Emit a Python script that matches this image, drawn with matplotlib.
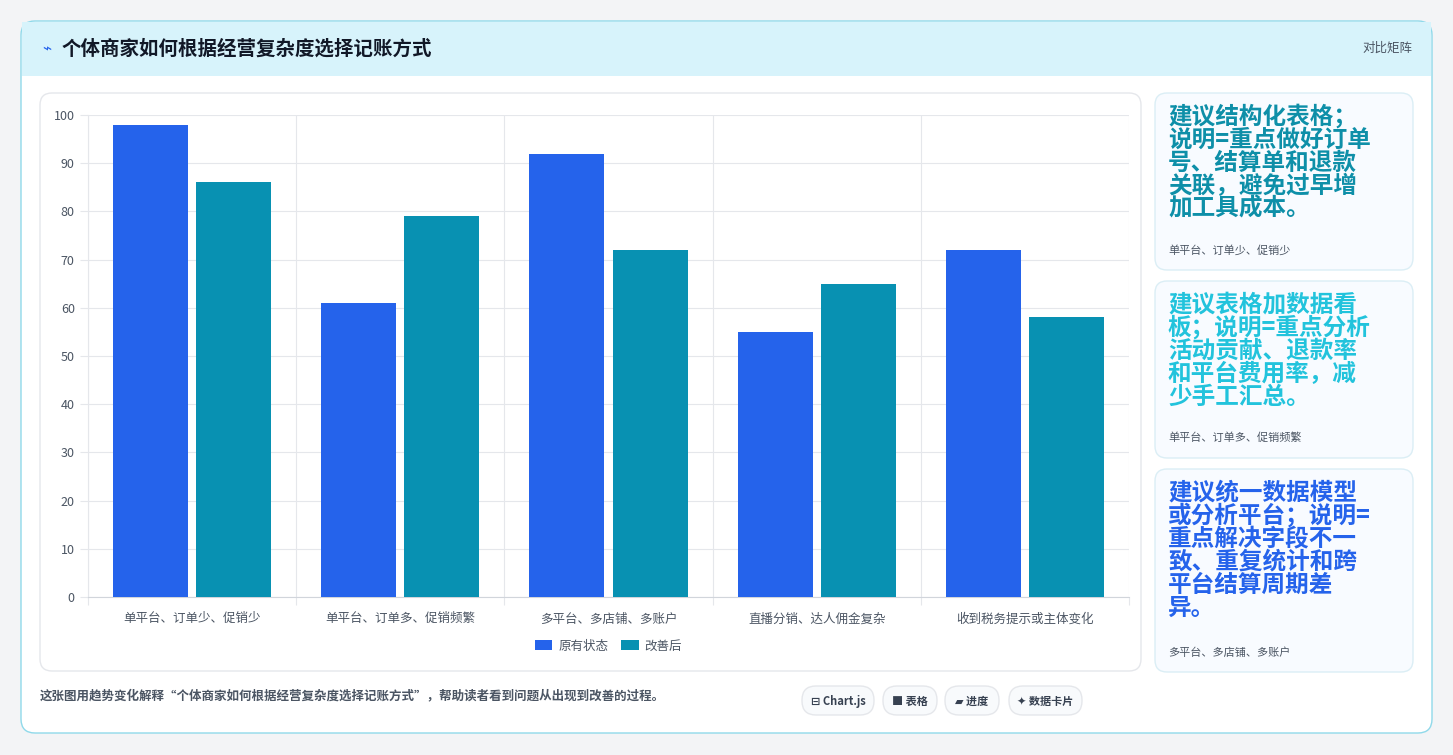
import matplotlib
matplotlib.use("Agg")
import matplotlib.pyplot as plt
from matplotlib.patches import FancyBboxPatch, Rectangle
import numpy as np

plt.rcParams['font.family'] = ['Noto Sans CJK SC', 'DejaVu Sans']

categories = ["单平台、订单少、促销少", "单平台、订单多、促销频繁", "多平台、多店铺、多账户", "直播分销、达人佣金复杂", "收到税务提示或主体变化"]
original = [98, 61, 92, 55, 72]
improved = [86, 79, 72, 65, 58]
series_names = ["原有状态", "改善后"]
colors = ["#2563eb", "#0891b2"]
title = "个体商家如何根据经营复杂度选择记账方式"
cards = [
    ("建议结构化表格；\n说明=重点做好订单\n号、结算单和退款\n关联，避免过早增\n加工具成本。", "单平台、订单少、促销少", "#0e8fa8"),
    ("建议表格加数据看\n板；说明=重点分析\n活动贡献、退款率\n和平台费用率，减\n少手工汇总。", "单平台、订单多、促销频繁", "#22c3dc"),
    ("建议统一数据模型\n或分析平台；说明=\n重点解决字段不一\n致、重复统计和跨\n平台结算周期差\n异。", "多平台、多店铺、多账户", "#2563eb"),
]
chips = ["⊟ Chart.js", "■ 表格", "▰ 进度", "✦ 数据卡片"]

W, H = 1453, 755
fig = plt.figure(figsize=(W/100, H/100), dpi=100)
fig.patch.set_facecolor("#f3f4f6")

def box(x, y, w, h, fc, ec, r=12, lw=1, z=0):
    p = FancyBboxPatch((x/W, 1-(y+h)/H), w/W, h/H,
                       boxstyle=f"round,pad=0,rounding_size={r/W}",
                       transform=fig.transFigure, fc=fc, ec=ec, lw=lw, zorder=z,
                       mutation_aspect=W/H)
    fig.add_artist(p)

box(21, 21, 1411, 712, "white", "#8fd9ea", r=14, lw=1)
fig.add_artist(Rectangle((22/W, 1-76/H), 1409/W, 54/H, transform=fig.transFigure,
                         fc="#d7f3fb", ec="none", zorder=0.5))
fig.text(42/W, 1-49/H, "⌁", color="#2563eb", fontsize=11, va="center")
fig.text(62/W, 1-49/H, title, fontsize=14, fontweight="bold", color="#111827", va="center")
fig.text(1412/W, 1-48/H, "对比矩阵", fontsize=9, color="#4b5563", va="center", ha="right")

box(40, 93, 1101, 578, "white", "#e5e7eb", r=12)

ax = fig.add_axes([88/W, 1-597/H, 1041/W, 482/H])
x = np.arange(len(categories))
bw = 0.36
ax.bar(x-0.2, original, bw, color=colors[0], label=series_names[0], zorder=3)
ax.bar(x+0.2, improved, bw, color=colors[1], label=series_names[1], zorder=3)
ax.set_xlim(-0.5, len(categories)-0.5)
ax.set_ylim(0, 100)
ax.set_yticks(range(0, 101, 10))
ax.set_xticks(np.arange(-0.5, len(categories), 1), minor=False)
ax.set_xticklabels([])
ax.tick_params(axis="x", length=6, color="#e5e7eb")
for i, c in enumerate(categories):
    ax.text(i, -3.2, c, ha="center", va="top", fontsize=9, color="#4b5563")
ax.tick_params(axis="y", length=6, color="#e5e7eb", labelsize=9, labelcolor="#4b5563")
ax.grid(True, color="#e5e7eb", lw=0.8, zorder=0)
for s in ax.spines.values():
    s.set_visible(False)
ax.spines["bottom"].set_visible(True); ax.spines["bottom"].set_color("#d1d5db")
ax.spines["left"].set_visible(True); ax.spines["left"].set_color("#e5e7eb")
ax.set_facecolor("none")
leg = ax.legend(loc="upper center", bbox_to_anchor=(0.5, -0.065), ncol=2, frameon=False,
                fontsize=9, handlelength=1.4, handleheight=0.9, columnspacing=1.0, handletextpad=0.5)
for t in leg.get_texts():
    t.set_color("#4b5563")

ys = [(93, 177), (281, 177), (469, 203)]
for (y, h), (txt, sub, col) in zip(ys, cards):
    box(1155, y, 258, h, "#f8fbff", "#dbeef5", r=12)
    fig.text(1168/W, 1-(y+11)/H, txt, fontsize=17, fontweight="bold", color=col,
             va="top", linespacing=0.95)
    fig.text(1168/W, 1-(y+h-20)/H, sub, fontsize=8, color="#4b5563", va="center")

fig.text(40/W, 1-696/H, "这张图用趋势变化解释“个体商家如何根据经营复杂度选择记账方式”，帮助读者看到问题从出现到改善的过程。",
         fontsize=9, color="#4b5563", fontweight="bold", va="center")
cx = [(802, 72), (883, 54), (945, 54), (1009, 73)]
for (x0, w), t in zip(cx, chips):
    box(x0, 686, w, 29, "#f8fafc", "#e5e7eb", r=14)
    fig.text((x0+w/2)/W, 1-701/H, t, fontsize=8, fontweight="bold", color="#374151",
             ha="center", va="center", family=['Noto Sans CJK SC', 'DejaVu Sans'])

fig.savefig("out.png", dpi=100, facecolor=fig.get_facecolor())
